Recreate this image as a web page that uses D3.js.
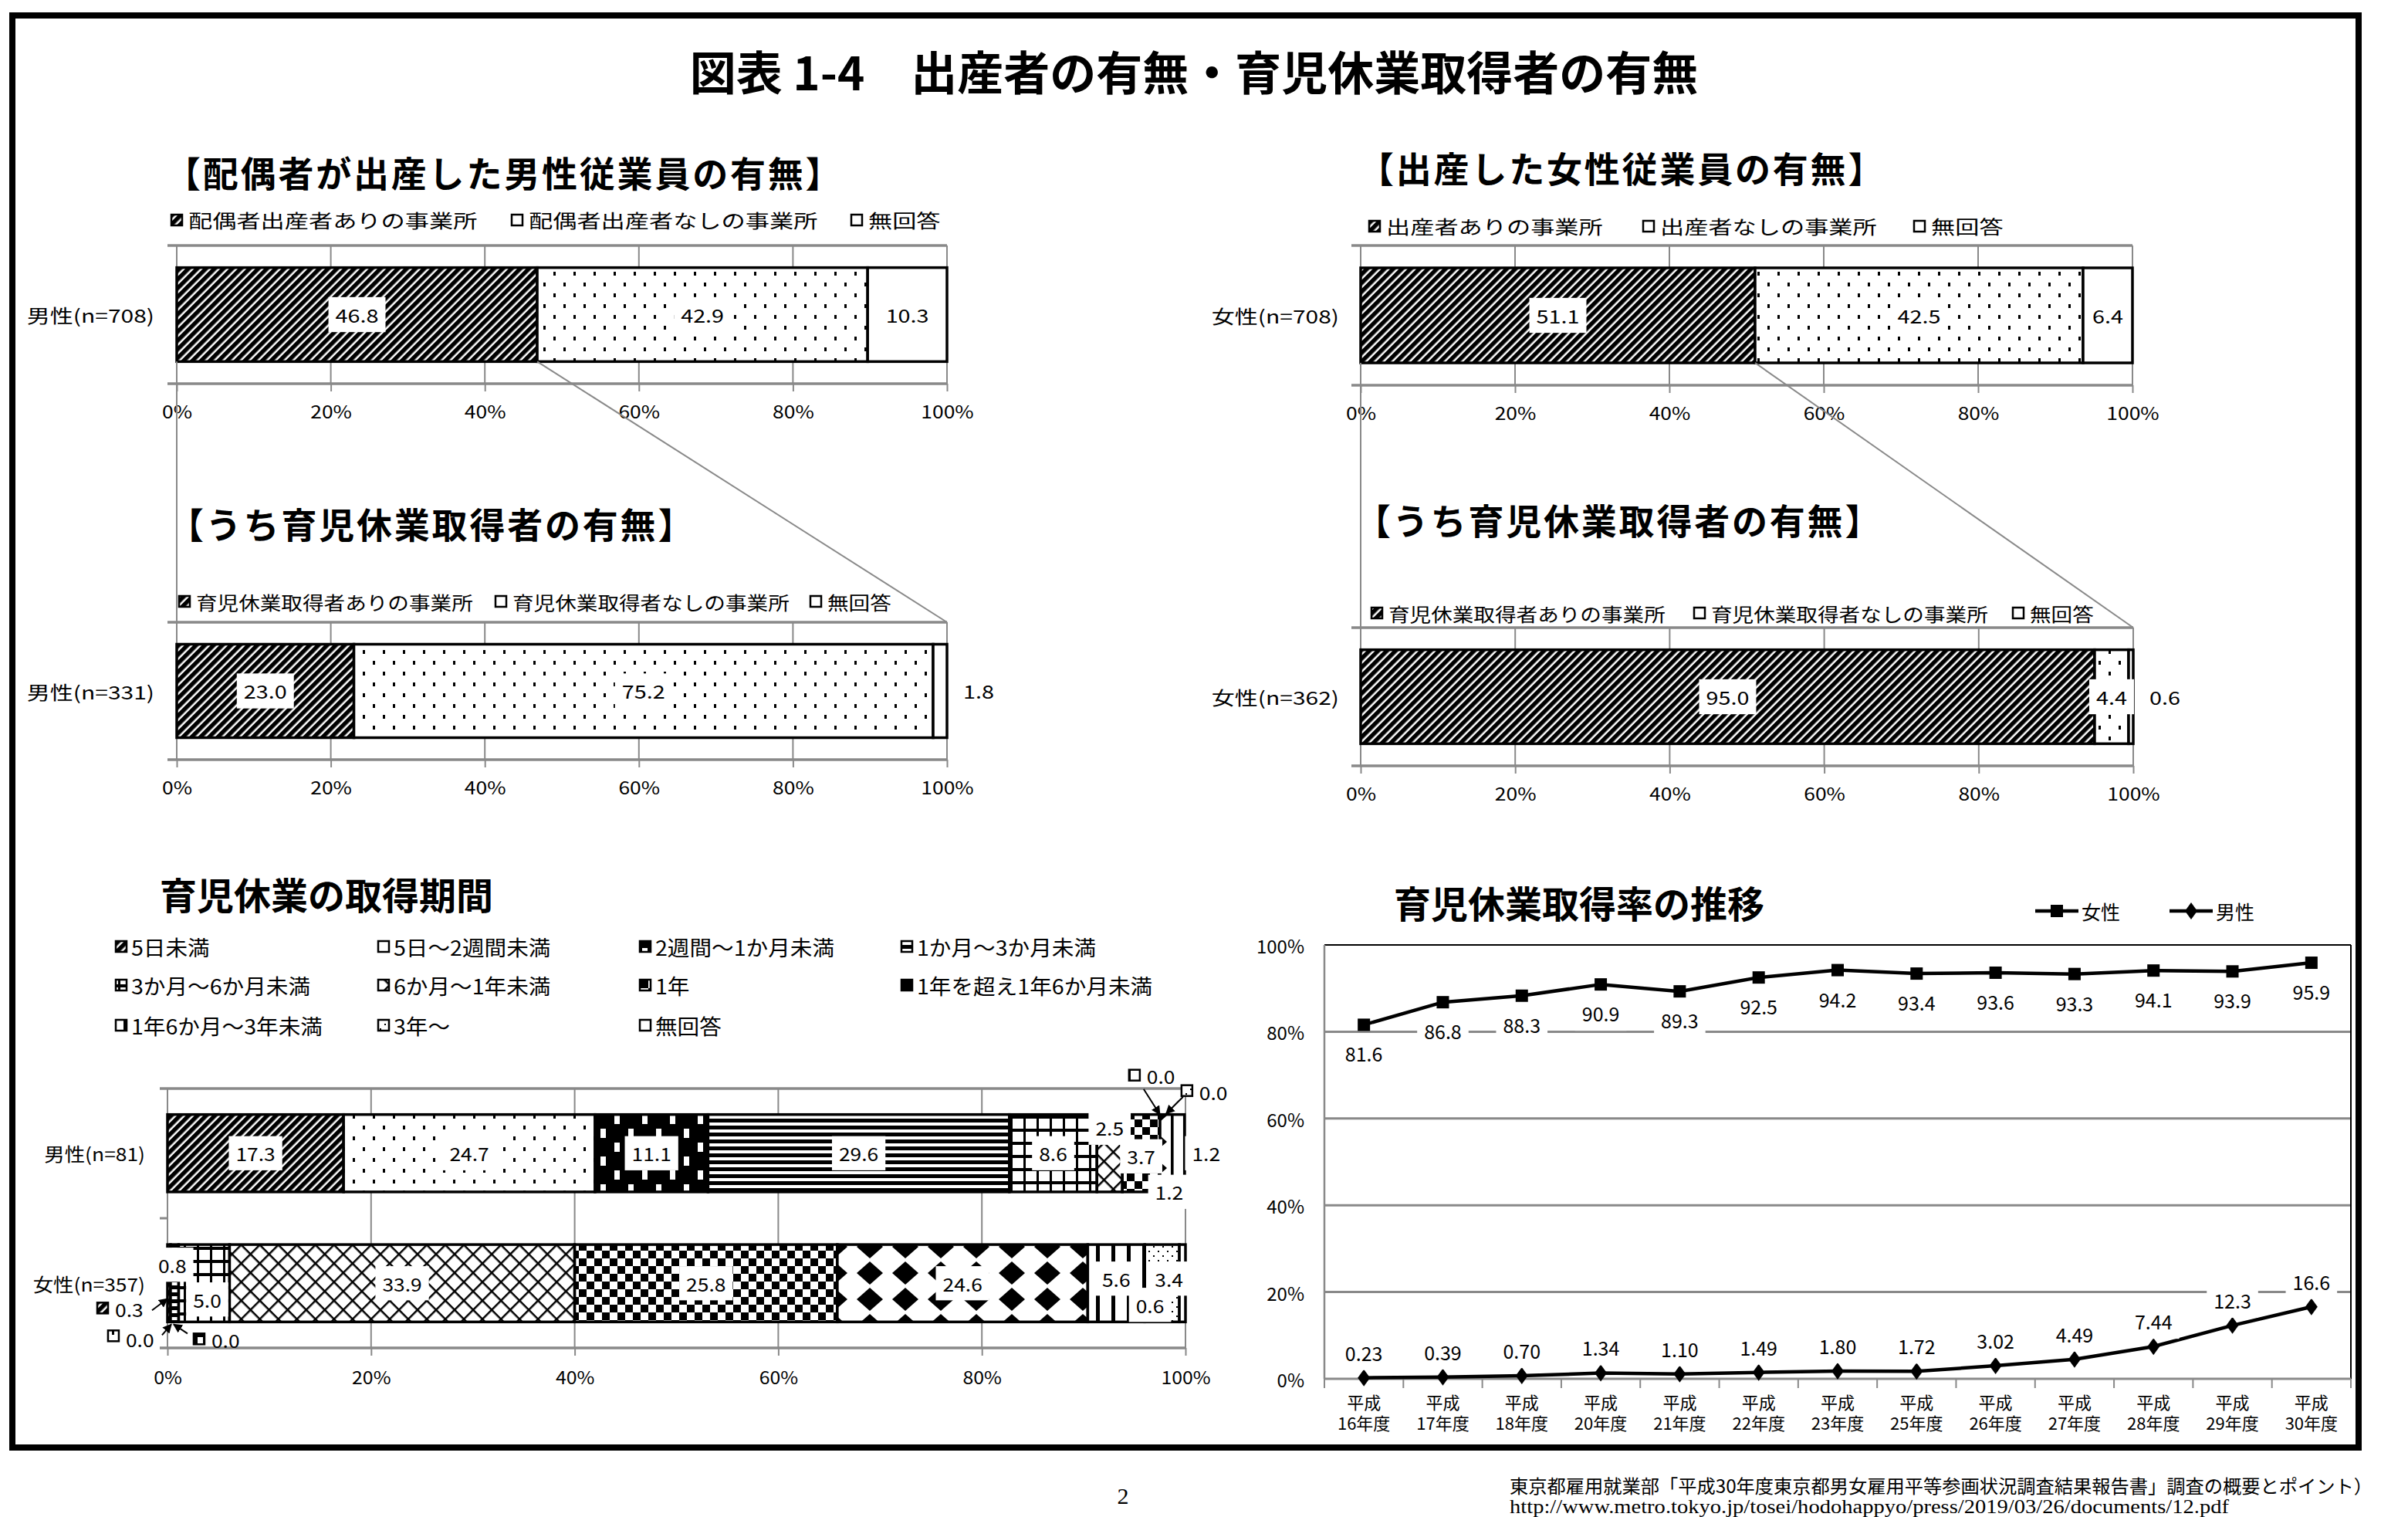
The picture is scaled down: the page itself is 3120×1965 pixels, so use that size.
<!DOCTYPE html>
<html>
<head>
<meta charset="utf-8">
<script src="https://cdn.jsdelivr.net/npm/d3@7"></script>
<style>
  body { margin: 0; background: #fff; }
  text { font-family: "Noto Sans CJK JP", "Noto Sans", sans-serif; fill: #000; }
</style>
</head>
<body>
<div id="chart"></div>
<script>
// ---- data ----
var pctTicks = [0, 20, 40, 60, 80, 100];

var birthMaleKeys = ["配偶者出産者ありの事業所", "配偶者出産者なしの事業所", "無回答"];
var birthMaleVals = [46.8, 42.9, 10.3];
var birthFemaleKeys = ["出産者ありの事業所", "出産者なしの事業所", "無回答"];
var birthFemaleVals = [51.1, 42.5, 6.4];
var takerKeys = ["育児休業取得者ありの事業所", "育児休業取得者なしの事業所", "無回答"];
var takerMaleVals = [23.0, 75.2, 1.8];
var takerFemaleVals = [95.0, 4.4, 0.6];

var periodKeys = ["5日未満", "5日～2週間未満", "2週間～1か月未満", "1か月～3か月未満",
  "3か月～6か月未満", "6か月～1年未満", "1年", "1年を超え1年6か月未満",
  "1年6か月～3年未満", "3年～", "無回答"];
var periodCats = ["男性(n=81)", "女性(n=357)"];
var periodMale = [17.3, 24.7, 11.1, 29.6, 8.6, 2.5, 3.7, 1.2, 0.0, 0.0, 1.2];
var periodFemale = [0.3, 0.0, 0.0, 0.8, 5.0, 33.9, 25.8, 24.6, 5.6, 3.4, 0.6];

var fiscalYears = ["16年度", "17年度", "18年度", "20年度", "21年度", "22年度", "23年度",
  "25年度", "26年度", "27年度", "28年度", "29年度", "30年度"];
var rateFemale = [81.6, 86.8, 88.3, 90.9, 89.3, 92.5, 94.2, 93.4, 93.6, 93.3, 94.1, 93.9, 95.9];
var rateMale = [0.23, 0.39, 0.70, 1.34, 1.10, 1.49, 1.80, 1.72, 3.02, 4.49, 7.44, 12.3, 16.6];

// ---- svg ----
var W = 3120, H = 1965;
var svg = d3.select("#chart").append("svg").attr("width", W).attr("height", H);
svg.append("rect").attr("width", W).attr("height", H).attr("fill", "#fff");
var defs = svg.append("defs");
var GRID = "#898989";

function pattern(id, w, h, bg, draw, tr) {
  var p = defs.append("pattern").attr("id", id)
    .attr("patternUnits", "userSpaceOnUse").attr("width", w).attr("height", h);
  if (tr) p.attr("patternTransform", tr);
  p.append("rect").attr("width", w).attr("height", h).attr("fill", bg);
  draw(p);
}
pattern("pDiag", 8, 8, "#fff", function (p) {
  p.append("rect").attr("width", 5.5).attr("height", 8).attr("fill", "#000");
}, "rotate(45)");
pattern("pDots", 26, 28, "#fff", function (p) {
  p.append("rect").attr("x", 2).attr("y", 2).attr("width", 3).attr("height", 5).attr("fill", "#000");
  p.append("rect").attr("x", 15).attr("y", 16).attr("width", 3).attr("height", 5).attr("fill", "#000");
});
pattern("pBlk", 36, 36, "#000", function (p) {
  p.append("rect").attr("x", 4).attr("y", 4).attr("width", 7).attr("height", 12).attr("fill", "#fff");
  p.append("rect").attr("x", 22).attr("y", 22).attr("width", 7).attr("height", 12).attr("fill", "#fff");
});
pattern("pHStr", 10, 9, "#fff", function (p) {
  p.append("rect").attr("width", 10).attr("height", 5).attr("fill", "#000");
});
pattern("pGrid", 17, 17, "#fff", function (p) {
  p.append("rect").attr("width", 17).attr("height", 4).attr("fill", "#000");
  p.append("rect").attr("width", 3).attr("height", 17).attr("fill", "#000");
});
pattern("pCross", 17, 17, "#fff", function (p) {
  p.append("rect").attr("width", 17).attr("height", 2.5).attr("fill", "#000");
  p.append("rect").attr("width", 2.5).attr("height", 17).attr("fill", "#000");
}, "rotate(45)");
pattern("pCheck", 20, 20, "#fff", function (p) {
  p.append("rect").attr("width", 10).attr("height", 10).attr("fill", "#000");
  p.append("rect").attr("x", 10).attr("y", 10).attr("width", 10).attr("height", 10).attr("fill", "#000");
});
pattern("pDiam", 46, 34, "#fff", function (p) {
  p.append("path").attr("d", "M23,2 L40,17 L23,32 L6,17Z").attr("fill", "#000");
});
pattern("pVStr", 20, 10, "#fff", function (p) {
  p.append("rect").attr("width", 5).attr("height", 10).attr("fill", "#000");
});
pattern("p3yr", 12, 12, "#fff", function (p) {
  p.append("rect").attr("width", 2).attr("height", 2).attr("fill", "#000");
  p.append("rect").attr("x", 6).attr("y", 6).attr("width", 2).attr("height", 2).attr("fill", "#000");
});
defs.append("marker").attr("id", "arrow").attr("viewBox", "0 0 10 10")
  .attr("refX", 9).attr("refY", 5).attr("markerWidth", 6).attr("markerHeight", 6)
  .attr("orient", "auto")
  .append("path").attr("d", "M0,0 L10,5 L0,10Z").attr("fill", "#000");

var shareFills = ["url(#pDiag)", "url(#pDots)", "#fff"];
var periodFills = ["url(#pDiag)", "url(#pDots)", "url(#pBlk)", "url(#pHStr)", "url(#pGrid)",
  "url(#pCross)", "url(#pCheck)", "url(#pDiam)", "url(#pVStr)", "url(#p3yr)", "#fff"];

// text helper, sx stretches glyphs horizontally like the original
function addText(g, x, y, str, o) {
  o = o || {};
  var sx = o.sx || 1;
  var t = g.append("text")
    .attr("x", x / sx).attr("y", y)
    .attr("transform", sx === 1 ? null : "scale(" + sx + ",1)")
    .attr("font-size", o.size || 24)
    .attr("font-weight", o.bold ? "bold" : null)
    .attr("text-anchor", o.anchor || "start")
    .attr("dominant-baseline", "central")
    .attr("letter-spacing", o.ls || null)
    .text(str);
  if (o.box) {
    var b = t.node().getBBox();
    g.insert("rect", function () { return t.node(); })
      .attr("x", b.x * sx - 9).attr("y", b.y - 5)
      .attr("width", b.width * sx + 18).attr("height", b.height + 10)
      .attr("fill", "#fff");
  }
  return t;
}

function stack(vals) {
  var acc = 0;
  return vals.map(function (v, i) {
    var s = { i: i, v: v, x0: acc, x1: acc + v };
    acc += v;
    return s;
  });
}

// outer frame, title
svg.append("rect").attr("x", 16).attr("y", 20).attr("width", 3040).attr("height", 1855)
  .attr("fill", "none").attr("stroke", "#000").attr("stroke-width", 8);
addText(svg, 1547, 90, "図表 1-4　出産者の有無・育児休業取得者の有無", { size: 60, bold: true, anchor: "middle" });

// ---- share bar charts (top) ----
function drawShareBar(cfg) {
  var g = svg.append("g");
  var x = d3.scaleLinear().domain([0, 100]).range([cfg.x0, cfg.x1]);
  var y = d3.scaleBand().domain([cfg.cat]).range([cfg.top, cfg.bottom])
    .paddingInner(0.32).paddingOuter(0.16);

  addText(g, cfg.titleX, cfg.titleY, cfg.title, { size: 46, bold: true, ls: 2.8 });

  cfg.keys.forEach(function (k, i) {
    var lx = cfg.legendXs[i];
    g.append("rect").attr("x", lx).attr("y", cfg.legendY - 7).attr("width", 14).attr("height", 14)
      .attr("fill", shareFills[i]).attr("stroke", "#000").attr("stroke-width", 2.5);
    addText(g, lx + 22, cfg.legendY, k, { size: 24, sx: cfg.legendSx });
  });

  g.selectAll(".vgrid").data(pctTicks).enter().append("line")
    .attr("x1", x).attr("x2", x).attr("y1", cfg.top).attr("y2", cfg.bottom)
    .attr("stroke", GRID).attr("stroke-width", 2);
  [cfg.top, cfg.bottom].forEach(function (yy) {
    g.append("line").attr("x1", cfg.x0 - 12).attr("x2", cfg.x1).attr("y1", yy).attr("y2", yy)
      .attr("stroke", GRID).attr("stroke-width", 3.5);
  });

  var ax = g.append("g").attr("transform", "translate(0," + cfg.bottom + ")")
    .call(d3.axisBottom(x).tickValues(pctTicks).tickSize(10).tickFormat(function (d) { return d + "%"; }));
  ax.select(".domain").remove();
  ax.selectAll("line").attr("stroke", GRID).attr("stroke-width", 2);
  ax.selectAll("text").attr("y", 35).attr("dy", null).attr("dominant-baseline", "central")
    .attr("font-size", 23).attr("font-family", "Noto Sans CJK JP").attr("transform", "scale(1.15,1)");

  addText(g, cfg.catX, y(cfg.cat) + y.bandwidth() / 2, cfg.cat, { size: 24, sx: 1.25, anchor: "end" });

  var segs = stack(cfg.vals);
  var by = y(cfg.cat), bh = y.bandwidth();
  g.selectAll(".seg").data(segs).enter().append("rect")
    .attr("x", function (d) { return x(d.x0); })
    .attr("y", by)
    .attr("width", function (d) { return x(d.x1) - x(d.x0); })
    .attr("height", bh)
    .attr("fill", function (d) { return shareFills[d.i]; })
    .attr("stroke", "#000").attr("stroke-width", 3.5);

  segs.forEach(function (d, i) {
    var lx = (x(d.x0) + x(d.x1)) / 2;
    if (i === segs.length - 1 && d.v < 2) lx = cfg.x1 + 41;
    addText(g, lx, by + bh / 2, d3.format(".1f")(d.v), { size: 24, sx: 1.2, anchor: "middle", box: true });
  });
  return { x: x, barBottom: by + bh, top: cfg.top };
}

var chartA = drawShareBar({
  x0: 229, x1: 1227, top: 318, bottom: 497, cat: "男性(n=708)", catX: 200,
  keys: birthMaleKeys, vals: birthMaleVals,
  title: "【配偶者が出産した男性従業員の有無】", titleX: 214, titleY: 222,
  legendXs: [222, 663, 1103], legendY: 285, legendSx: 1.3
});
var chartB = drawShareBar({
  x0: 229, x1: 1227, top: 806, bottom: 984, cat: "男性(n=331)", catX: 200,
  keys: takerKeys, vals: takerMaleVals,
  title: "【うち育児休業取得者の有無】", titleX: 218, titleY: 677,
  legendXs: [232, 642, 1050], legendY: 779, legendSx: 1.15
});
var chartC = drawShareBar({
  x0: 1763, x1: 2763, top: 318, bottom: 499, cat: "女性(n=708)", catX: 1735,
  keys: birthFemaleKeys, vals: birthFemaleVals,
  title: "【出産した女性従業員の有無】", titleX: 1760, titleY: 216,
  legendXs: [1774, 2129, 2480], legendY: 293, legendSx: 1.3
});
var chartD = drawShareBar({
  x0: 1763, x1: 2764, top: 813, bottom: 992, cat: "女性(n=362)", catX: 1735,
  keys: takerKeys, vals: takerFemaleVals,
  title: "【うち育児休業取得者の有無】", titleX: 1756, titleY: 672,
  legendXs: [1777, 2195, 2608], legendY: 794, legendSx: 1.15
});

// connector lines between the two stacked charts
[[chartA, chartB, birthMaleVals[0]], [chartC, chartD, birthFemaleVals[0]]].forEach(function (c) {
  var up = c[0], dn = c[1];
  svg.append("line").attr("x1", up.x(0)).attr("x2", dn.x(0))
    .attr("y1", up.barBottom).attr("y2", dn.top).attr("stroke", GRID).attr("stroke-width", 2);
  svg.append("line").attr("x1", up.x(c[2])).attr("x2", dn.x(100))
    .attr("y1", up.barBottom).attr("y2", dn.top).attr("stroke", GRID).attr("stroke-width", 2);
});

// ---- period chart (bottom left) ----
(function () {
  var g = svg.append("g");
  var top = 1410, bottom = 1746;
  var x = d3.scaleLinear().domain([0, 100]).range([217, 1536]);
  var y = d3.scaleBand().domain(periodCats).range([top, bottom]).paddingInner(0.405).paddingOuter(0.2);

  addText(g, 207, 1157, "育児休業の取得期間", { size: 48, bold: true });

  var colX = [150, 490, 829, 1168], rowY = [1226, 1276, 1328];
  periodKeys.forEach(function (k, i) {
    var lx = colX[i % 4], ly = rowY[Math.floor(i / 4)];
    g.append("rect").attr("x", lx).attr("y", ly - 7).attr("width", 14).attr("height", 14)
      .attr("fill", periodFills[i]).attr("stroke", "#000").attr("stroke-width", 2.5);
    addText(g, lx + 20, ly, k, { size: 27, sx: 1.06 });
  });

  g.selectAll(".vgrid").data(pctTicks).enter().append("line")
    .attr("x1", x).attr("x2", x).attr("y1", top).attr("y2", bottom)
    .attr("stroke", GRID).attr("stroke-width", 2);
  [top, bottom].forEach(function (yy) {
    g.append("line").attr("x1", 207).attr("x2", 1536).attr("y1", yy).attr("y2", yy)
      .attr("stroke", GRID).attr("stroke-width", 3.5);
  });
  var sepY = (y(periodCats[0]) + y.bandwidth() + y(periodCats[1])) / 2;
  g.append("line").attr("x1", 207).attr("x2", 217).attr("y1", sepY).attr("y2", sepY)
    .attr("stroke", GRID).attr("stroke-width", 3);

  var ax = g.append("g").attr("transform", "translate(0," + bottom + ")")
    .call(d3.axisBottom(x).tickValues(pctTicks).tickSize(10).tickFormat(function (d) { return d + "%"; }));
  ax.select(".domain").remove();
  ax.selectAll("line").attr("stroke", GRID).attr("stroke-width", 2);
  ax.selectAll("text").attr("y", 37).attr("dy", null).attr("dominant-baseline", "central")
    .attr("font-size", 23).attr("font-family", "Noto Sans CJK JP").attr("transform", "scale(1.08,1)");

  // label nudges and callouts, keyed by row-segment
  var nudge = {
    "0-5": [0, -33], "0-6": [0, 4], "0-7": [4, 50], "0-10": [36, 0],
    "1-3": [-3, -24], "1-4": [4, 21], "1-8": [0, -6], "1-9": [9, -6], "1-10": [-42, 28]
  };
  var callouts = {
    "0-8": { edge: "top", sw: [-49, -51], tx: [-33, -50], from: [-37, -33], to: [-16, 0] },
    "0-9": { edge: "top", sw: [19, -31], tx: [35, -29], from: [14, -23], to: [-8, -1] },
    "1-0": { edge: "bottom", sw: [-84, -18], tx: [-68, -17], from: [-20, -15], to: [0, -30] },
    "1-1": { edge: "bottom", sw: [-74, 18], tx: [-58, 22], from: [-11, 17], to: [1, 3] },
    "1-2": { edge: "bottom", sw: [37, 22], tx: [53, 23], from: [22, 15], to: [4, 3] }
  };

  [periodMale, periodFemale].forEach(function (vals, r) {
    var by = y(periodCats[r]), bh = y.bandwidth(), cy = by + bh / 2;
    addText(g, 188, cy, periodCats[r], { size: 24, sx: 1.1, anchor: "end" });
    var segs = stack(vals);
    g.selectAll(".seg" + r).data(segs.filter(function (d) { return d.v > 0; })).enter().append("rect")
      .attr("x", function (d) { return x(d.x0); })
      .attr("y", by)
      .attr("width", function (d) { return x(d.x1) - x(d.x0); })
      .attr("height", bh)
      .attr("fill", function (d) { return periodFills[d.i]; })
      .attr("stroke", "#000").attr("stroke-width", 3.5);

    segs.forEach(function (d) {
      var key = r + "-" + d.i;
      var txt = d3.format(".1f")(d.v);
      if (callouts[key]) {
        var c = callouts[key];
        var ax0 = x(d.x0), ay0 = c.edge === "top" ? by : by + bh;
        g.append("rect").attr("x", ax0 + c.sw[0] - 7).attr("y", ay0 + c.sw[1] - 7)
          .attr("width", 14).attr("height", 14)
          .attr("fill", periodFills[d.i]).attr("stroke", "#000").attr("stroke-width", 2.5);
        addText(g, ax0 + c.tx[0], ay0 + c.tx[1], txt, { size: 24, sx: 1.1 });
        g.append("line").attr("x1", ax0 + c.from[0]).attr("y1", ay0 + c.from[1])
          .attr("x2", ax0 + c.to[0]).attr("y2", ay0 + c.to[1])
          .attr("stroke", "#000").attr("stroke-width", 2).attr("marker-end", "url(#arrow)");
        return;
      }
      if (d.v <= 0) return;
      var n = nudge[key] || [0, 0];
      addText(g, (x(d.x0) + x(d.x1)) / 2 + n[0], cy + n[1], txt,
        { size: 24, sx: 1.1, anchor: "middle", box: true });
    });
  });
})();

// ---- line chart (bottom right) ----
(function () {
  var g = svg.append("g");
  var left = 1716, right = 3046, top = 1224, bottom = 1786;
  var x = d3.scaleBand().domain(fiscalYears).range([left, right]);
  var y = d3.scaleLinear().domain([0, 100]).range([bottom, top]);
  var cx = function (d, i) { return x(fiscalYears[i]) + x.bandwidth() / 2; };

  addText(g, 1806, 1168, "育児休業取得率の推移", { size: 48, bold: true });

  g.selectAll(".hgrid").data([20, 40, 60, 80]).enter().append("line")
    .attr("x1", left).attr("x2", right).attr("y1", y).attr("y2", y)
    .attr("stroke", GRID).attr("stroke-width", 3);
  g.append("line").attr("x1", left).attr("x2", right).attr("y1", top).attr("y2", top)
    .attr("stroke", "#000").attr("stroke-width", 2);
  g.append("line").attr("x1", right).attr("x2", right).attr("y1", top).attr("y2", bottom)
    .attr("stroke", "#000").attr("stroke-width", 2);
  g.append("line").attr("x1", left).attr("x2", left).attr("y1", top).attr("y2", bottom)
    .attr("stroke", GRID).attr("stroke-width", 2.5);
  g.append("line").attr("x1", left).attr("x2", right).attr("y1", bottom).attr("y2", bottom)
    .attr("stroke", GRID).attr("stroke-width", 3);

  var ay = g.append("g").attr("transform", "translate(" + left + ",0)")
    .call(d3.axisLeft(y).tickValues(pctTicks).tickSize(0).tickPadding(26)
      .tickFormat(function (d) { return d + "%"; }));
  ay.select(".domain").remove();
  ay.selectAll("text").attr("font-size", 24).attr("font-family", "Noto Sans CJK JP")
    .attr("dy", null).attr("dominant-baseline", "central");

  var bounds = fiscalYears.map(function (f) { return x(f); }).concat([right]);
  g.selectAll(".xt").data(bounds).enter().append("line")
    .attr("x1", function (d) { return d; }).attr("x2", function (d) { return d; })
    .attr("y1", bottom).attr("y2", bottom + 12)
    .attr("stroke", GRID).attr("stroke-width", 2);
  fiscalYears.forEach(function (f, i) {
    addText(g, cx(null, i), 1815, "平成", { size: 22, anchor: "middle" });
    addText(g, cx(null, i), 1842, f, { size: 22, anchor: "middle" });
  });

  var line = d3.line().x(cx).y(function (d) { return y(d); });
  [rateFemale, rateMale].forEach(function (vals) {
    g.append("path").datum(vals).attr("d", line)
      .attr("fill", "none").attr("stroke", "#000").attr("stroke-width", 4.5);
  });
  var diamond = "M0,-11 L8,0 L0,11 L-8,0Z";
  g.selectAll(".fm").data(rateFemale).enter().append("rect")
    .attr("x", function (d, i) { return cx(d, i) - 8; })
    .attr("y", function (d) { return y(d) - 8; })
    .attr("width", 16).attr("height", 16).attr("fill", "#000");
  g.selectAll(".mm").data(rateMale).enter().append("path")
    .attr("d", diamond)
    .attr("transform", function (d, i) { return "translate(" + cx(d, i) + "," + y(d) + ")"; })
    .attr("fill", "#000");

  rateFemale.forEach(function (v, i) {
    addText(g, cx(v, i), y(v) + 37, d3.format(".1f")(v), { size: 25, anchor: "middle", box: true });
  });
  rateMale.forEach(function (v, i) {
    var s = v >= 10 ? d3.format(".1f")(v) : d3.format(".2f")(v);
    addText(g, cx(v, i), y(v) - 33, s, { size: 25, anchor: "middle", box: true });
  });

  // legend
  var leg = [{ name: "女性", x: 2637 }, { name: "男性", x: 2811 }];
  leg.forEach(function (l, i) {
    g.append("line").attr("x1", l.x).attr("x2", l.x + 56).attr("y1", 1180).attr("y2", 1180)
      .attr("stroke", "#000").attr("stroke-width", 4.5);
    if (i === 0) {
      g.append("rect").attr("x", l.x + 20).attr("y", 1172).attr("width", 16).attr("height", 16).attr("fill", "#000");
    } else {
      g.append("path").attr("d", diamond).attr("transform", "translate(" + (l.x + 28) + ",1180)").attr("fill", "#000");
    }
    addText(g, l.x + 60, 1180, l.name, { size: 25 });
  });
})();

// ---- source note and page number ----
svg.append("text").attr("x", 1956).attr("y", 1923).attr("dominant-baseline", "central")
  .attr("font-size", 24).attr("textLength", 1118).attr("lengthAdjust", "spacingAndGlyphs")
  .text("東京都雇用就業部「平成30年度東京都男女雇用平等参画状況調査結果報告書」調査の概要とポイント）");
svg.append("text").attr("x", 1956).attr("y", 1951).attr("dominant-baseline", "central")
  .attr("font-size", 25)
  .attr("textLength", 932).attr("lengthAdjust", "spacingAndGlyphs")
  .style("font-family", "'Liberation Serif', serif")
  .text("http://www.metro.tokyo.jp/tosei/hodohappyo/press/2019/03/26/documents/12.pdf");
svg.append("text").attr("x", 1455).attr("y", 1948).attr("text-anchor", "middle")
  .attr("font-size", 30).style("font-family", "'Liberation Serif', serif").text("2");
</script>
</body>
</html>
